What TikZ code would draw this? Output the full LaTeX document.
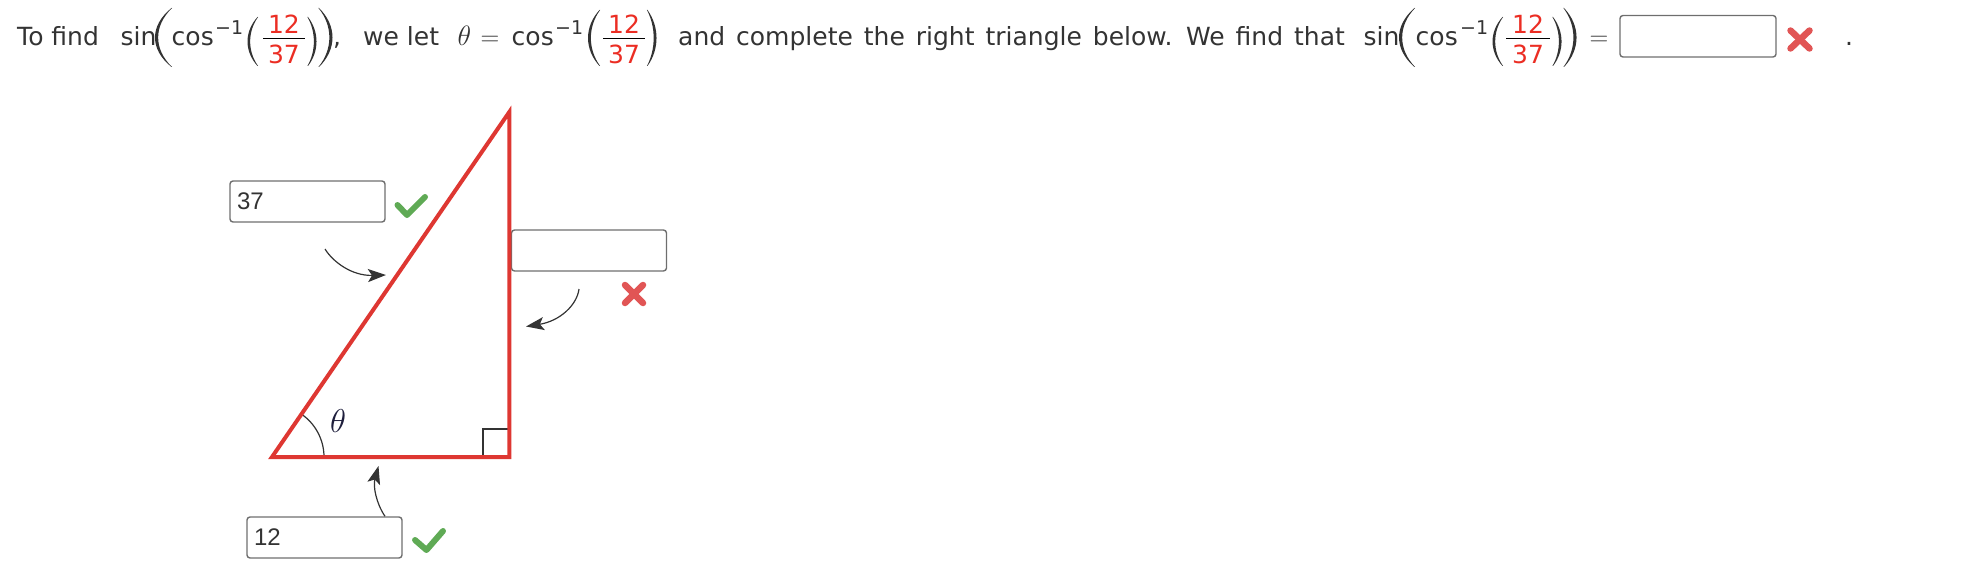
\RequirePackage{fix-cm}
\documentclass[tikz,border=0pt]{standalone}
\usepackage{fontspec}
\setmainfont{DejaVu Sans}
\newfontfamily\arialfont{Liberation Sans}
\usetikzlibrary{arrows.meta}
\definecolor{txt}{RGB}{51,51,51}
\definecolor{tri}{RGB}{222,55,50}
\definecolor{frred}{RGB}{235,45,35}
\definecolor{boxgray}{RGB}{110,110,110}
\definecolor{okgreen}{RGB}{95,170,85}
\definecolor{xred}{RGB}{225,85,85}
\definecolor{thcol}{RGB}{30,30,60}

% left parenthesis: leftmost x, end x, top y, bottom y, thickness
\newcommand\lpar[5]{%
  \fill[txt] (#2,#3) .. controls ({(#1-0.25*#2)/0.75},{#3+0.3*(#4-#3)}) and ({(#1-0.25*#2)/0.75},{#4-0.3*(#4-#3)}) .. (#2,#4)
    -- (#2+0.6,#4) .. controls ({(#1+#5-0.25*#2)/0.75},{#4-0.3*(#4-#3)}) and ({(#1+#5-0.25*#2)/0.75},{#3+0.3*(#4-#3)}) .. (#2+0.6,#3) -- cycle;}
% right parenthesis: rightmost x, end x, top y, bottom y, thickness
\newcommand\rpar[5]{%
  \fill[txt] (#2,#3) .. controls ({(#1-0.25*#2)/0.75},{#3+0.3*(#4-#3)}) and ({(#1-0.25*#2)/0.75},{#4-0.3*(#4-#3)}) .. (#2,#4)
    -- (#2-0.6,#4) .. controls ({(#1-#5-0.25*#2)/0.75},{#4-0.3*(#4-#3)}) and ({(#1-#5-0.25*#2)/0.75},{#3+0.3*(#4-#3)}) .. (#2-0.6,#3) -- cycle;}
% fraction 12/37: name, centre x, half bar width
\newcommand\frc[3]{%
  \node[numst] (#1n) at (#2,34) {12};
  \node[numst] (#1d) at (#2,63.5) {37};
  \draw[line width=1.5pt,black] (#2-#3,38.3) -- (#2+#3,38.3);}

\begin{document}
\begin{tikzpicture}[x=1pt,y=-1pt,
  every node/.style={inner sep=0pt},
  txst/.style={anchor=base west,text=txt,font=\fontsize{25}{30}\selectfont},
  supst/.style={anchor=base west,text=txt,font=\fontsize{19}{22}\selectfont},
  numst/.style={anchor=base,text=frred,font=\fontsize{25}{30}\selectfont},
  ansbox/.style={draw=boxgray,line width=1.4pt,rounded corners=3pt,minimum width=155pt,minimum height=41pt},
  boxtxt/.style={ansbox,text=txt,font=\arialfont\fontsize{24}{28}\selectfont,text width=141pt,align=left,inner xsep=6pt},
  okmark/.style={draw=okgreen,line width=6pt,line cap=round,line join=round},
  xmark/.style={draw=xred,line width=6.5pt,line cap=round},
  ptr/.style={draw=txt,line width=1.2pt,-{Stealth[length=18pt,width=13pt,inset=4pt]}},
]
\useasboundingbox (0,0) rectangle (1982,586);

% ---------- top line ----------
\node[txst] (t1) at (17,46) {To find};
\node[txst] (s1) at (120.5,46) {sin};
\lpar{155}{171.5}{8}{67}{3.0}
\node[txst] (c1) at (171.5,46) {cos};
\node[supst] (e1) at (215,35) {−1};
\lpar{247.5}{257.5}{17}{66}{2.5}
\frc{f1}{284}{21}
\rpar{316.5}{308}{17}{66}{2.5}
\rpar{332.5}{319}{8}{67}{3.0}
\node[txst] (cm1) at (333,46) {,};

\node[txst] (t2) at (363,46) {we let};
\node[txst,font=\fontsize{28}{30}\selectfont] (th1) at (457.5,46) {$\theta$};
\node[txst,font=\fontsize{26}{30}\selectfont] (eq1) at (480.5,46) {$=$};
\node[txst] (c2) at (511.5,46) {cos};
\node[supst] (e2) at (555,35) {−1};
\lpar{588}{599.5}{10}{66}{2.7}
\frc{f2}{624}{21}
\rpar{656.5}{647.5}{10}{66}{2.7}
\node[txst] (t3) at (678,46) {\hbox{and\hspace{3pt} complete\hspace{3pt} the\hspace{3pt} right\hspace{3pt} triangle\hspace{3pt} below.\hspace{3pt} We\hspace{3pt} find\hspace{3pt} that}};

\node[txst] (s3) at (1363.5,46) {sin};
\lpar{1399}{1414.5}{8}{67}{3.0}
\node[txst] (c3) at (1415.5,46) {cos};
\node[supst] (e3) at (1460,35) {−1};
\lpar{1492.5}{1502.5}{17}{66}{2.5}
\frc{f3}{1528}{22}
\rpar{1561.5}{1553}{17}{66}{2.5}
\rpar{1576.5}{1564}{8}{67}{3.0}
\node[txst,font=\fontsize{26}{30}\selectfont] (eq2) at (1589.5,46) {$=$};
\node[ansbox,minimum width=156pt,minimum height=41.5pt] (ans) at (1698,36.25) {};
\draw[xmark] (1790.5,30.5) -- (1809.5,48.5);
\draw[xmark] (1809.5,30.5) -- (1790.5,48.5);
\node[txst] (dot) at (1845,46) {.};

% ---------- triangle ----------
\coordinate (A) at (272,457);
\coordinate (B) at (509.3,457);
\coordinate (C) at (509.3,112);

% labels
\node[boxtxt] (b37) at (307.5,201.5) {37};
\node[ansbox] (bopp) at (589,250.5) {};
\node[boxtxt] (b12) at (324.5,537.5) {12};

\draw[txt,line width=1.2pt] (483,457) -- (483,429) -- (509.3,429);
\draw[txt,line width=1.2pt] (A) ++(52,0) arc[start angle=0,end angle=-55.7,radius=52];
\node[text=thcol,font=\fontsize{33}{36}\selectfont] (th2) at (338,421) {$\theta$};

\draw[tri,line width=4pt,line join=miter] (A) -- (B) -- (C) -- cycle;

\draw[okmark] (397.5,205) -- (407,215) -- (425,197);
\draw[okmark] (415,540) -- (426.5,550) -- (443,531);
\draw[xmark] (625,285) -- (643,303);
\draw[xmark] (643,285) -- (625,303);

% pointers
\coordinate (p1s) at (325,249);
\coordinate (p1e) at (386,275);
\coordinate (p2s) at (579,289);
\coordinate (p2e) at (526,326.5);
\coordinate (p3e) at (378.5,466);
\draw[ptr] (p1s) .. controls (333,262) and (352,276) .. (p1e);
\draw[ptr] (p2s) .. controls (577,305) and (560,321) .. (p2e);
\draw[ptr] (b12.north -| 385,0) .. controls (376,503) and (373,486) .. (p3e);
\end{tikzpicture}
\end{document}
